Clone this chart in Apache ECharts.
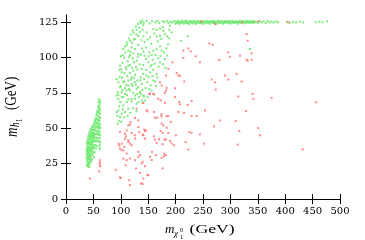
<!DOCTYPE html>
<html><head><meta charset="utf-8">
<script src="https://cdn.jsdelivr.net/npm/echarts@6/dist/echarts.min.js"></script>
<style>html,body{margin:0;padding:0;background:#fff}#c{width:365px;height:240px}</style>
</head><body><div id="c"></div>
<script>
const xTicks = [0,50,100,150,200,250,300,350,400,450,500];
const yTicks = [0,25,50,75,100,125];

// green: low-mass cluster
const greenCluster = [
[60.5,70.6],[61.8,69.2],[59.5,68.3],[62.3,67.5],[60.8,66.2],[58.4,65.3],[61.5,64.6],[59.8,63.5],[62.4,62.8],[57.5,62.3],[60.3,61.4],[61.9,60.3],[56.3,61.2],[58.9,60.5],
[55.2,59.5],[57.8,58.8],[60.6,58.1],[62.1,57.2],[54.4,57.4],[56.9,56.6],[59.4,56],[61.3,55.2],[53.2,55.8],[58.1,55.3],
[52.1,54.6],[54.6,54.1],[57.2,53.7],[59.9,53.2],[62.2,52.8],[50.8,53.1],[53.6,52.4],[56.1,51.9],[58.7,51.5],[61,51],[49.5,51.6],[51.9,50.8],[54.8,50.3],[57.7,50.5],[60.3,49.9],[47.3,50.9],[62.5,50.3],
[44.8,49.6],[46.9,48.8],[48.8,49.3],[50.7,48.4],[52.9,48.9],[55.3,48.1],[57.1,47.6],[59.2,48.3],[61.6,47.2],[43.2,47.9],[45.5,47.1],[47.7,46.6],[49.8,46.9],[51.6,46.2],[53.8,45.7],[56.4,46],[58.5,45.4],[60.7,45.8],[42.1,46.3],[44.3,45.5],[46.4,45.2],[48.6,44.8],[50.9,45.1],[62.3,44.9],
[40.9,44.6],[42.8,44.1],[45.1,43.7],[47.2,44.2],[49.4,43.3],[51.5,43.8],[53.6,42.9],[55.8,43.4],[58,42.7],[61.2,43.1],[39.8,42.8],[41.7,42.2],[43.9,41.8],[46.2,42.5],[48.3,41.4],[50.6,41.9],[52.7,40.8],[55.1,41.1],[57.4,40.6],[60.5,40.9],[38.6,41.1],[40.7,40.4],[42.9,40.1],[45.4,40.7],[47.5,39.9],[49.9,40.3],[62.1,40],
[37.9,39.3],[39.9,38.7],[41.8,39.2],[44.1,38.4],[46.3,38.9],[48.5,38.1],[50.8,37.7],[53.4,38.3],[56.2,37.4],[61.5,38.2],[38.5,37.2],[40.6,36.6],[42.7,37.1],[44.9,36.3],[47.1,36.8],[49.3,35.9],[51.7,36.4],[54.5,35.6],[60.8,36.5],[37.4,35.4],[39.5,34.9],[41.6,35.3],[43.8,34.6],[46,35.1],[48.4,34.4],[62,35.2],
[38.1,33.8],[40.2,33.2],[42.4,33.6],[44.6,32.9],[46.9,33.4],[49.6,32.6],[52.3,33.1],[37.2,32.1],[39.3,31.5],[41.5,31.9],[43.7,31.2],[45.8,30.8],[48.2,31.4],[38.4,30.2],[40.6,29.7],[42.8,30.1],[45,29.4],
[37.6,28.6],[39.7,28],[41.9,28.4],[44.2,27.7],[47.1,28.3],[38.8,26.7],[40.9,26.1],[43.1,26.5],[39.5,24.9],[41.7,24.3],[44,25.2],[40.3,23.2],[42.6,22.6],[38.2,23.8],[46.5,26.8],[51.1,29.6]
];

// green: spread region 90-200 GeV
const greenSpread = [
[141.1,122.8],[133.8,121.2],[139.9,119.5],[128.9,119.5],[147.2,117.7],[122.9,117.7],[159.3,120],[165.4,119.5],[171.5,120.5],[177.6,118.8],[180.6,116.5],[184.9,114.9],[188.5,113.5],[192.8,117.7],[189.7,122.4],
[171.5,115.3],[165.4,114.9],[153.3,114.2],[141.1,114.9],[132,115.3],[125.9,113],[116.8,111.8],[110.7,110.6],[107.7,107.8],[104.6,105.9],[113.7,104.8],[103.4,101.7],[100.4,100.8],[119.8,107.1],[125.9,105.9],
[132,108.8],[138.1,106.4],[141.1,104.1],[132,102.4],[116.8,101.7],[121.6,99.4],[124.1,96.6],[128.9,97.7],[146,107.1],[152,103.6],[156.3,101.7],[159.3,104.8],[165.4,105.9],[171.5,107.8],[174.5,104.8],[178.8,103.6],
[168.5,99.4],[171.5,96.6],[180.6,98.9],[146,98.9],[150.2,96.6],[156.3,94.7],[141.1,94.7],[138.1,91.9],[130.2,91.4],[122.9,90.7],[113.7,94.2],[109.5,93.1],[116.8,89.1],[98.5,94.2],[97.3,91.4],[101.6,89.5],
[92.5,84.8],[95.5,82.5],[99.8,79.7],[104.6,82.5],[113.7,83.7],[119.8,86],[125.9,87.7],[130.2,83.7],[136.2,86],[141.1,88.4],[147.2,87.2],[153.3,89.5],[159.3,91.4],[165.4,88.4],[148.4,82.5],[138.1,81.3],[154.5,80.2],
[107.7,78.3],[116.8,76.6],[122.9,75],[128.9,77.8],[136.2,74.3],[101.6,75.5],[95.5,73.6],[104.6,72],[113.7,70.3],[119.8,68.9],[125.9,70.8],[132,68.4],[139.9,68],[144.1,69.6],[148.4,72],[141.1,73.1],[159.3,83.7],[164.2,79.7],[156.3,76.6],
[98.5,79],[94.3,75.5],[92.5,73.1],[95.5,70.8],[101.6,72],[107.7,74.3],[110.7,76.7],[113.7,80.2],[119.8,81.4],[125.9,82.5],[132,79],[135,75.5],[125.9,73.1],[119.8,70.8],[110.7,68.5],[104.6,66.1],[95.5,62.6],[92.5,61.4],[98.5,57.9],[94.3,53.2],[107.7,61.4],[113.7,63.8],[101.6,60.2],[129,67.3],[138,69.6],
[97.8,86.3],[100.9,91.7],[103.2,96.1],[105.9,99.8],[108.3,103.5],[111.2,108.9],[114.6,113.4],[118.2,116.1],[121.7,119.2],[127.4,121.8],[131.2,123.5],[136.5,124.4],[139.3,126],
[102.4,85.7],[106.8,88.9],[110.2,91.6],[112.5,97.3],[115.3,100.2],[117.9,103.9],[120.5,110.3],[123.6,112.7],[128.1,116.4],[134.7,118.1],[137.6,112.2],[143.5,110.9],[149.1,112.6],[155.8,109.7],[161.2,116.9],[167.5,111.3],[173.8,113.1],[176.2,121.5],[186.3,109.2],[183.1,106.4],[188.4,119.6],
[111.9,86.8],[116.4,94.5],[120.2,92.7],[123.1,102.8],[127.7,93.3],[130.9,100.6],[134.5,95.1],[136.9,102.1],[143.3,101.3],[146.8,91.2],[150.7,100.9],[153.9,93.6],[158.2,98.3],[161.9,95.7],[163.5,101.8],[168.9,93.4],[172.3,101.1],[176.9,95.2],[181.7,92.6],[184.6,101.4],
[99.1,68.6],[102.9,77.1],[106.1,83.2],[109.6,80.6],[111.3,73.4],[114.8,77.7],[118.6,84.5],[121.4,79.9],[124.2,85.3],[127.5,80.7],[129.9,74.1],[133.1,72.2],[135.8,83.9],[139.2,77.2],[142.6,84.7],[145.3,78.4],[150.9,86.1],[152.1,77.6],[157.7,86.9],[162.3,83.1],[166.8,85.8],
[142.3,72.5],[128.4,61.9],[122.6,64.2],[117.3,60.8],[112.4,58.7],[106.2,57.6],[103.7,63.3],[97.2,65.4],[93.8,58.8],[96.4,55.2],[100.7,54.6],
[209.8,111.8],[222,114.9],[335.7,106]
];

// green: plateau near 125 GeV
const greenBand = [
[135.5,125.3],[141.8,124.6],[147.2,125.8],[152.6,124.1],[156.9,125.5],[163.3,124.8],[166.8,125.9],[170.2,124.3],[176.4,125.6],[179.8,124.9],[184.3,125.7],[187.1,124.2],[190.6,125.3],[194.2,124.7],[197.8,125.8],[199.5,123.9],
[201.3,125.1],[202.9,124.3],[204.1,125.9],[205.8,124.8],[207.2,123.6],[208.6,125.4],[210.3,124.5],[211.7,126.1],[213.1,124.9],[214.6,123.8],[216.2,125.5],[217.5,124.6],[219.1,125.9],[220.4,124.1],[222,125.3],[223.6,124.4],[225.1,123.5],[226.5,125.7],[228,124.8],[229.4,125.2],[231.1,124],[232.5,125.8],[233.9,124.6],[235.6,125.4],[237,123.7],[238.4,124.9],[240.1,125.9],[241.5,124.3],[243,125.3],[244.6,124.5],[246.1,125.8],[247.4,124.1],[249,125],[250.5,123.9],[252,125.6],[253.4,124.7],[255.1,125.3],[256.5,124.2],[258,125.9],[259.6,124.6],[261.1,125.2],[262.5,123.8],[264,125.7],[265.6,124.8],[267,125.4],[268.5,124.3],[270.1,125.8],[271.6,124.5],[273,125.1],[274.6,123.7],[276.1,125.5],[277.5,124.6],[279.1,125.9],[280.6,124.2],[282.1,125.3],[283.5,124.7],[285.1,125.6],[286.6,123.9],[288,125.1],[289.6,124.4],[291.1,125.8],[292.5,124.9],[294.1,125.3],[295.6,124.1],[297.1,125.7],[298.6,124.6],[300.1,125.4],[301.6,124],[303.1,125.9],[304.7,124.8],[306.2,125.2],[307.6,124.3],[309.2,125.6],[310.7,124.7],[312.2,125.1],[313.8,123.8],[315.3,125.5],[316.7,124.6],[318.3,125.9],[319.8,124.4],[321.3,125.2],[322.9,124.8],[324.4,125.6],[325.9,124.1],[327.5,125.3],[329,124.6],[330.5,125.9],[332,124.9],[333.6,125.4],[335.1,124.2],[336.6,125.7],[338.2,124.7],[339.7,125.2],[341.2,124.5],[342.8,125.8],[344.3,124.9],
[347.2,125.1],[350.5,124.4],[353.8,125.6],[357.1,124.9],[360.6,125.4],[364.2,124.3],[367.5,125.7],[371.1,124.8],[374.6,125.3],[378.3,124.6],[382.7,125.5],[386.9,124.9],
[403.5,125.2],[408.8,124.6],[414.6,125.1],[420.3,124.8],[427.1,125.3],[432.8,124.7],[455.6,124.9],[462.3,125.4],[468.1,124.8],[476.2,125.5]
];

// red points
const redLow = [
[43.8,14.5],[61.5,27.4],[62,25.8],[61.2,24.5],[62.3,23.2],[60.6,19.6],[90.8,20.6],[98.5,15.2],[99.8,14.8],[96,39.1],[97.3,37.9],[98.5,35.6],[98.5,47.4],[101.5,34.4],[104.6,34.4],[101.6,39.1],[104.6,28.6],[106.4,36.8],[107.6,42.6],[107.7,46.2],[108.9,23.9],[109.4,44.3],[110.7,48.5],[110.7,32.1],[110.7,27.4],[113.7,52],[113.7,41.5],[113.7,40.3],[115.5,13.3],[116.7,9.8],[116.7,28.6],[116.7,39.1],[116.7,52.5],[117.9,54.4],[119.8,46.6],[119.8,38],[125.8,45],[125.9,57.2],[125.9,42.7],[125.9,27.4],[127.7,21.5],[128.9,63.7],[131.9,50.8],[132,55.6],[132,33.3],[132,29.8],[133.8,47.3]
];
const redMid = [
[135,31],[135,18.5],[138,25.1],[136.8,11],[139.9,26.3],[139.9,10.6],[141,67.8],[141,45],[139.9,45.5],[141.1,14.5],[142.9,49],[144,48.1],[146,48.4],[144.1,42.7],[144,23.2],[147.2,62.6],[148.4,61.9],[148.4,16.9],[150.2,16.8],[152,74.4],[153.2,29.8],[153.2,74.3],[156.3,27.5],[156.9,33.3],[159.3,74.3],[160.5,73.9],[160.5,61.5],[160.5,44.3],[162.4,57.5],[162.4,42],[164.2,31],[165.4,39.7],[166.6,57.5],[168.4,70.8],[169.7,42.2],[171.5,82.5],[172.7,69.7],[172.7,48.1],[173.9,59.8],[174.5,58.4],[174.5,53.3],[174.5,80.1],[174.5,29.1],[176.3,46.7],[176.3,38.7],[176.3,21.6],[177.6,52.1],[178.8,30.3],[179.4,42],[179.4,32.1],[180.6,75],[180.6,68],[182.4,42],[182.4,31],[182.4,87.2],[182.4,76.6],[183.6,58.6],[183.6,50.4],[183.6,78.5],[186.7,58.6],[186.7,46.7],[186.7,91.9],[189.7,41],[191,54.4],[192.8,39.2],[194.5,96.5],[197,38],[198.8,72],[198.9,78.3],[200.7,45],[202,89],[204.9,61.5],[205,87.2],[206.7,68.5],[208,66.9],[208,87.2],[214.1,104.8],[214.1,99.6],[215.3,60.8],[216,83],[218.3,40.3],[223.2,106.4],[222,66.5],[223.2,35],[225,47.4],[227.5,104.3],[229.2,69.2],[229.2,58.6],[229.2,46.7],[236.6,100.8],[238.4,58.6]
];
const redHigh = [
[244.5,96.6],[244.5,45.7],[251.8,39.1],[253.6,62.6],[261.5,109.9],[267.6,109],[265.8,84.4],[270,51.3],[271.9,82.5],[273.1,77.3],[279.8,98.2],[281,55.5],[290.1,87.2],[296.2,103.6],[296.2,84.4],[299.2,100.5],[309.6,55],[311.4,88.4],[313.2,38.4],[314.4,72.4],[316.2,48],[317.5,101.2],[320.5,83],[328.4,62.1],[329.6,116.5],[331.5,111.8],[329.6,98.4],[331.5,97.7],[338.7,98.4],[338.7,102.9],[340.6,74.3],[341.8,70.8],[350.9,50.1],[354,45],[375.2,71.5],[431.8,35.1],[456,68.4],
[247,125.3],[271.9,123.6],[321.5,124.9],[350.9,125.6],[405.6,124.8]
];

const GREEN = '#5ce65c', RED = '#ff6b6b';
const tickFont = {fontFamily:'DejaVu Serif', fontSize:10, color:'#000'};
const axLine = {show:true, lineStyle:{color:'#000', width:1}};
const axTick = (vals)=>({show:true, inside:true, length:5, customValues:vals, lineStyle:{color:'#000', width:1}});

const chart = echarts.init(document.getElementById('c'), null, {renderer:'canvas'});
chart.setOption({
  animation:false,
  backgroundColor:'#fff',
  grid:{left:66, right:25, top:15, bottom:41},
  xAxis:[
    {type:'value', position:'bottom', min:0, max:500, interval:50, axisLine:axLine, axisTick:axTick(xTicks),
     axisLabel:Object.assign({margin:7, customValues:xTicks}, tickFont), splitLine:{show:false}},
    {type:'value', position:'top', min:0, max:500, interval:50, axisLine:axLine, axisTick:axTick(xTicks),
     axisLabel:{show:false}, splitLine:{show:false}}
  ],
  yAxis:[
    {type:'value', position:'left', min:0, max:130, interval:25, axisLine:axLine, axisTick:axTick(yTicks),
     axisLabel:Object.assign({margin:8, customValues:yTicks}, tickFont), splitLine:{show:false}},
    {type:'value', position:'right', min:0, max:130, interval:25, axisLine:axLine, axisTick:axTick(yTicks),
     axisLabel:{show:false}, splitLine:{show:false}}
  ],
  series:[
    {type:'scatter', data:greenCluster, symbol:'rect', symbolSize:2, itemStyle:{color:GREEN}, silent:true},
    {type:'scatter', data:greenSpread, symbol:'rect', symbolSize:2, itemStyle:{color:GREEN}, silent:true},
    {type:'scatter', data:greenBand, symbol:'rect', symbolSize:2, itemStyle:{color:GREEN}, silent:true},
    {type:'scatter', data:redLow, symbol:'rect', symbolSize:2, itemStyle:{color:RED}, silent:true},
    {type:'scatter', data:redMid, symbol:'rect', symbolSize:2, itemStyle:{color:RED}, silent:true},
    {type:'scatter', data:redHigh, symbol:'rect', symbolSize:2, itemStyle:{color:RED}, silent:true}
  ],
  graphic:[
    // x axis title: m_{chi_1^0} (GeV)
    {type:'text', x:165, y:230, style:{text:'m', fontFamily:'Liberation Serif', fontStyle:'italic', fontSize:13, fill:'#000', verticalAlign:'middle', align:'left'}},
    {type:'text', x:174, y:233.5, style:{text:'χ', fontFamily:'Liberation Serif', fontStyle:'italic', fontSize:9, fill:'#000', verticalAlign:'middle', align:'left'}},
    {type:'text', x:180, y:230, style:{text:'0', fontFamily:'Liberation Serif', fontSize:6.5, fill:'#000', verticalAlign:'middle', align:'left'}},
    {type:'text', x:180, y:237, style:{text:'1', fontFamily:'Liberation Serif', fontSize:6.5, fill:'#000', verticalAlign:'middle', align:'left'}},
    {type:'text', x:189.5, y:229.5, scaleX:1.36, style:{text:'(GeV)', fontFamily:'Liberation Serif', fontSize:13, fill:'#000', verticalAlign:'middle', align:'left'}},
    // y axis title: m_{h_1} (GeV)
    {type:'group', x:12.5, y:137, rotation:Math.PI/2, scaleY:1.3, children:[
      {type:'text', x:0, y:0, style:{text:'m', fontFamily:'Liberation Serif', fontStyle:'italic', fontSize:13, fill:'#000', verticalAlign:'middle', align:'left'}},
      {type:'text', x:10, y:3, style:{text:'h', fontFamily:'Liberation Serif', fontStyle:'italic', fontSize:9, fill:'#000', verticalAlign:'middle', align:'left'}},
      {type:'text', x:15, y:5.5, style:{text:'1', fontFamily:'Liberation Serif', fontSize:6.5, fill:'#000', verticalAlign:'middle', align:'left'}},
      {type:'text', x:27, y:-0.5, style:{text:'(GeV)', fontFamily:'Liberation Serif', fontSize:13, fill:'#000', verticalAlign:'middle', align:'left'}}
    ]}
  ]
});
</script>
</body></html>
